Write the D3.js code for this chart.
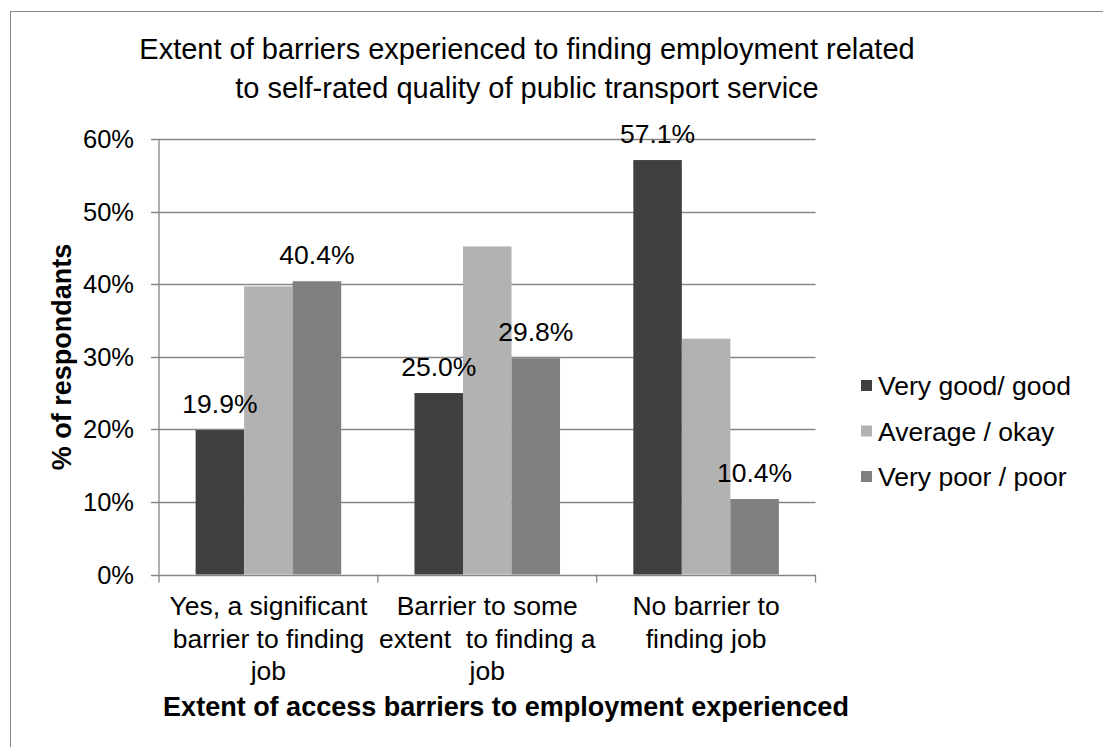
<!DOCTYPE html>
<html><head><meta charset="utf-8">
<script src="https://cdn.jsdelivr.net/npm/d3@7"></script>
<style>body{margin:0;background:#fff}svg{display:block}text{font-family:"Liberation Sans",Arial,sans-serif;fill:#000}</style>
</head><body>
<script>
const categories = [
  ["Yes, a significant", "barrier to finding", "job"],
  ["Barrier to some", "extent  to finding a", "job"],
  ["No barrier to", "finding job"]
];
const seriesNames = ["Very good/ good", "Average / okay", "Very poor / poor"];
const veryGood = [19.9, 25.0, 57.1];
const average = [39.7, 45.2, 32.5];
const veryPoor = [40.4, 29.8, 10.4];
const showLabels = [true, false, true];
const yTicks = [0, 10, 20, 30, 40, 50, 60];
const colors = ["#404040", "#b2b2b2", "#808080"];
const titleLines = ["Extent of barriers experienced to finding employment related", "to self-rated quality of public transport service"];

const series = [veryGood, average, veryPoor];
const W = 1103, H = 747;
const svg = d3.select("body").append("svg").attr("width", W).attr("height", H);

svg.append("rect").attr("x", 10.5).attr("y", 11.5).attr("width", W + 20).attr("height", H + 20)
  .attr("fill", "none").attr("stroke", "#868686").attr("stroke-width", 1);

const x0 = 159, x1 = 815.5, yTop = 139, yBot = 574.5;
const x = d3.scaleBand().domain(d3.range(categories.length)).range([x0, x1]).paddingInner(0).paddingOuter(0);
const y = d3.scaleLinear().domain([0, 60]).range([yBot, yTop]);
const inner = d3.scaleBand().domain(d3.range(series.length)).range([0, x.bandwidth()]).paddingInner(0).paddingOuter(0.755);

// gridlines
const g = svg.append("g");
g.selectAll("line.grid").data(yTicks).join("line")
  .attr("x1", x0 - 8).attr("x2", x1).attr("y1", d => Math.round(y(d)) + 0.5).attr("y2", d => Math.round(y(d)) + 0.5)
  .attr("stroke", "#868686").attr("stroke-width", 1.3);
g.append("line").attr("x1", x0).attr("x2", x0).attr("y1", yTop).attr("y2", yBot).attr("stroke", "#868686").attr("stroke-width", 1.3);
g.selectAll("line.xt").data(d3.range(categories.length + 1)).join("line")
  .attr("x1", i => i < categories.length ? x(i) : x1).attr("x2", i => i < categories.length ? x(i) : x1)
  .attr("y1", yBot).attr("y2", yBot + 8).attr("stroke", "#868686").attr("stroke-width", 1.3);

// y tick labels
svg.selectAll("text.yt").data(yTicks).join("text")
  .attr("x", 134).attr("y", d => y(d) + 9).attr("text-anchor", "end").attr("font-size", 25.5)
  .text(d => d + "%");

// bars
series.forEach((vals, si) => {
  svg.append("g").selectAll("rect").data(vals).join("rect")
    .attr("x", (d, i) => x(i) + inner(si)).attr("width", inner.bandwidth())
    .attr("y", d => y(d)).attr("height", d => yBot - y(d)).attr("fill", colors[si]);
});
// data labels (on top of all bars)
series.forEach((vals, si) => {
  if (showLabels[si]) {
    svg.append("g").selectAll("text").data(vals).join("text")
      .attr("x", (d, i) => x(i) + inner(si) + inner.bandwidth() / 2)
      .attr("y", d => y(d) - 17).attr("text-anchor", "middle").attr("font-size", 26.5)
      .text(d => d.toFixed(1) + "%");
  }
});

// x category labels
categories.forEach((lines, i) => {
  const t = svg.append("text").attr("text-anchor", "middle").attr("font-size", 26.5).attr("xml:space", "preserve");
  lines.forEach((l, k) => {
    t.append("tspan").attr("x", x(i) + x.bandwidth() / 2).attr("y", 615 + k * 32.5).text(l);
  });
});

// axis titles
svg.append("text").attr("x", 506).attr("y", 716).attr("text-anchor", "middle")
  .attr("font-size", 27).attr("font-weight", "bold").text("Extent of access barriers to employment experienced");
svg.append("text").attr("transform", "translate(71,357) rotate(-90)").attr("text-anchor", "middle")
  .attr("font-size", 27).attr("font-weight", "bold").text("% of respondants");

// title
svg.append("text").attr("text-anchor", "middle").attr("font-size", 29)
  .selectAll("tspan").data(titleLines).join("tspan")
  .attr("x", 527).attr("y", (d, i) => 59 + i * 39).text(d => d);

// legend
const lg = svg.append("g");
seriesNames.forEach((n, i) => {
  const cy = 385.5 + i * 45.5;
  lg.append("rect").attr("x", 861).attr("y", cy - 5.5).attr("width", 11).attr("height", 11).attr("fill", colors[i]);
  lg.append("text").attr("x", 878).attr("y", cy + 9.5).attr("font-size", 26.5).text(n);
});
</script>
</body></html>
